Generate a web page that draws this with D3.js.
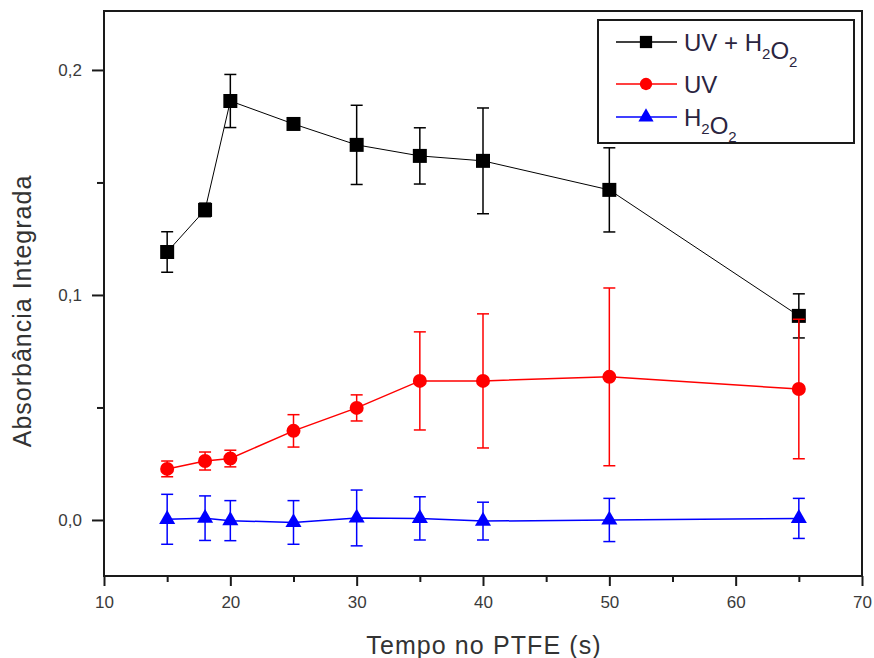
<!DOCTYPE html>
<html>
<head>
<meta charset="utf-8">
<script src="https://cdn.jsdelivr.net/npm/d3@7"></script>
<style>
    body { margin: 0; background: #fff; }
    svg { display: block; font-family: Arial, "Liberation Sans", sans-serif; }
</style>
</head>
<body>
<div id="chart"></div>
<script>
// Tempo no PTFE (s)
var times = [15, 18, 20, 25, 30, 35, 40, 50, 65];

// UV + H2O2
var uvH2o2 = [0.1191, 0.1378, 0.1862, 0.1760, 0.1667, 0.1618, 0.1596, 0.1467, 0.0907];
var uvH2o2Err = [0.0090, 0.0030, 0.0118, 0.0020, 0.0176, 0.0125, 0.0235, 0.0187, 0.0098];

// UV
var uv = [0.0227, 0.0262, 0.0273, 0.0396, 0.0498, 0.0618, 0.0618, 0.0636, 0.0582];
var uvErr = [0.0035, 0.0040, 0.0037, 0.0072, 0.0058, 0.0218, 0.0298, 0.0395, 0.0310];

// H2O2
var h2o2 = [0.0003, 0.0008, -0.0003, -0.0011, 0.0009, 0.0007, -0.0005, 0.0000, 0.0007];
var h2o2Err = [0.0111, 0.0099, 0.0089, 0.0097, 0.0124, 0.0096, 0.0084, 0.0096, 0.0089];

var xTicks = [10, 20, 30, 40, 50, 60, 70];
var xMinorTicks = [15, 25, 35, 45, 55, 65];
var yTicks = [0, 0.1, 0.2];
var yMinorTicks = [0.05, 0.15];

var width = 874, height = 658;
var margin = {top: 11, right: 12, bottom: 82, left: 104};
var innerW = width - margin.left - margin.right;
var innerH = height - margin.top - margin.bottom;

var series = [
    {name: 'UV + H2O2', values: uvH2o2, errors: uvH2o2Err, color: '#000000', lineWidth: 1, symbol: d3.symbolSquare, size: 196, legendSize: 150},
    {name: 'UV', values: uv, errors: uvErr, color: '#ff0000', lineWidth: 1.5, symbol: d3.symbolCircle, size: 154, legendSize: 120},
    {name: 'H2O2', values: h2o2, errors: h2o2Err, color: '#0000ff', lineWidth: 1.5, symbol: d3.symbolTriangle, size: 112, legendSize: 100}
];

var svg = d3.select('#chart').append('svg')
    .attr('width', width)
    .attr('height', height);

var g = svg.append('g')
    .attr('transform', 'translate(' + margin.left + ',' + margin.top + ')');

var x = d3.scaleLinear().domain([10, 70]).range([0, innerW]);
var y = d3.scaleLinear().domain([-0.0249, 0.2262]).range([innerH, 0]);

// axes: major + minor ticks, outward
function styleAxis(sel) {
    sel.select('.domain').remove();
    sel.selectAll('line').attr('stroke', '#1a1a1a').attr('stroke-width', 2);
    sel.selectAll('text').attr('fill', '#3a3a3a').attr('font-size', 17);
}

g.append('g')
    .attr('transform', 'translate(0,' + innerH + ')')
    .call(d3.axisBottom(x).tickValues(xTicks).tickSize(10).tickPadding(10).tickFormat(d3.format('d')))
    .call(styleAxis);

g.append('g')
    .attr('transform', 'translate(0,' + innerH + ')')
    .call(d3.axisBottom(x).tickValues(xMinorTicks).tickSize(6).tickFormat(''))
    .call(styleAxis);

g.append('g')
    .call(d3.axisLeft(y).tickValues(yTicks).tickSize(12).tickPadding(10)
        .tickFormat(function(d) { return d3.format('.1f')(d).replace('.', ','); }))
    .call(styleAxis);

g.append('g')
    .call(d3.axisLeft(y).tickValues(yMinorTicks).tickSize(7).tickFormat(''))
    .call(styleAxis);

// frame
g.append('rect')
    .attr('width', innerW)
    .attr('height', innerH)
    .attr('fill', 'none')
    .attr('stroke', '#1a1a1a')
    .attr('stroke-width', 2);

// axis titles
svg.append('text')
    .attr('x', 484)
    .attr('y', 654)
    .attr('text-anchor', 'middle')
    .attr('font-size', 25)
    .attr('letter-spacing', 1.1)
    .attr('fill', '#333')
    .text('Tempo no PTFE (s)');

svg.append('text')
    .attr('transform', 'translate(31,' + 311 + ') rotate(-90)')
    .attr('text-anchor', 'middle')
    .attr('font-size', 25)
    .attr('letter-spacing', 1)
    .attr('fill', '#333')
    .text('Absorbância Integrada');

// series: line, error bars, markers
var line = d3.line()
    .x(function(d) { return x(d.t); })
    .y(function(d) { return y(d.v); });

var capHalf = 6;

series.forEach(function(s) {
    var pts = times.map(function(t, i) { return {t: t, v: s.values[i], e: s.errors[i]}; });
    var sg = g.append('g');

    sg.append('path')
        .datum(pts)
        .attr('d', line)
        .attr('fill', 'none')
        .attr('stroke', s.color)
        .attr('stroke-width', s.lineWidth);

    var eb = sg.selectAll('.err')
        .data(pts)
        .enter().append('g')
        .attr('class', 'err')
        .attr('stroke', s.color)
        .attr('stroke-width', 1.5);

    eb.append('line')
        .attr('x1', function(d) { return x(d.t); })
        .attr('x2', function(d) { return x(d.t); })
        .attr('y1', function(d) { return y(d.v + d.e); })
        .attr('y2', function(d) { return y(d.v - d.e); });
    eb.append('line')
        .attr('x1', function(d) { return x(d.t) - capHalf; })
        .attr('x2', function(d) { return x(d.t) + capHalf; })
        .attr('y1', function(d) { return y(d.v + d.e); })
        .attr('y2', function(d) { return y(d.v + d.e); });
    eb.append('line')
        .attr('x1', function(d) { return x(d.t) - capHalf; })
        .attr('x2', function(d) { return x(d.t) + capHalf; })
        .attr('y1', function(d) { return y(d.v - d.e); })
        .attr('y2', function(d) { return y(d.v - d.e); });

    sg.selectAll('.marker')
        .data(pts)
        .enter().append('path')
        .attr('class', 'marker')
        .attr('transform', function(d) { return 'translate(' + x(d.t) + ',' + y(d.v) + ')'; })
        .attr('d', d3.symbol().type(s.symbol).size(s.size))
        .attr('fill', s.color);
});

// legend
var legend = svg.append('g').attr('transform', 'translate(598,20)');
legend.append('rect')
    .attr('width', 256)
    .attr('height', 123)
    .attr('fill', '#fff')
    .attr('stroke', '#1a1a1a')
    .attr('stroke-width', 2);

var rowY = [22, 64, 97];
var labelParts = [
    [['UV + H', 0], ['2', 1], ['O', 0], ['2', 1]],
    [['UV', 0]],
    [['H', 0], ['2', 1], ['O', 0], ['2', 1]]
];

series.forEach(function(s, i) {
    var row = legend.append('g').attr('transform', 'translate(0,' + rowY[i] + ')');
    row.append('line')
        .attr('x1', 18).attr('x2', 79)
        .attr('stroke', s.color)
        .attr('stroke-width', 1.5);
    row.append('path')
        .attr('transform', 'translate(48,0)')
        .attr('d', d3.symbol().type(s.symbol).size(s.legendSize))
        .attr('fill', s.color);

    var txt = row.append('text')
        .attr('x', 86)
        .attr('y', 9)
        .attr('font-size', 24)
        .attr('fill', '#2a2440');
    labelParts[i].forEach(function(p) {
        txt.append('tspan')
            .attr('font-size', p[1] ? 15 : 24)
            .attr('dy', p[1] ? 8 : 0)
            .text(p[0]);
        if (p[1]) txt.append('tspan').attr('dy', -8).attr('font-size', 24).text('');
    });
});
</script>
</body>
</html>
